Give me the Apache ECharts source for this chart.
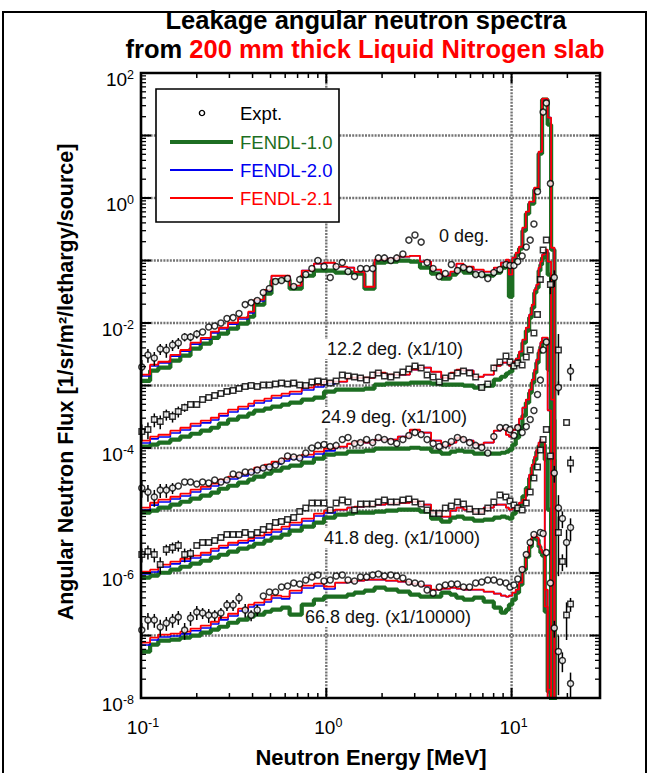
<!DOCTYPE html>
<html>
<head>
<meta charset="utf-8">
<title>Leakage angular neutron spectra</title>
<script src="https://cdn.jsdelivr.net/npm/echarts@6/dist/echarts.min.js"></script>
<style>
  html, body { margin: 0; padding: 0; background: #fff; }
  #chart { width: 649px; height: 773px; }
</style>
</head>
<body>
<div id="chart"></div>
<script>
// ---------------------------------------------------------------------------
// Calculated spectra: group boundaries (MeV), one flux value per group
// ---------------------------------------------------------------------------
const groupEdges = [
  0.100, 0.112, 0.124, 0.144, 0.163, 0.185, 0.210, 0.238, 0.263, 0.295,
  0.334, 0.379, 0.408, 0.463, 0.506, 0.573, 0.634, 0.737, 0.857, 0.972,
  1.116, 1.297, 1.416, 1.606, 1.821, 2.090, 2.431, 2.826, 3.204, 3.679,
  4.172, 4.671, 5.036, 5.500, 6.236, 7.070, 8.017, 8.754, 9.319, 9.675,
  10.09, 10.53, 10.97, 11.44, 11.94, 12.44, 12.85, 13.25, 13.60, 13.99,
  14.30, 14.60, 15.10, 15.66, 16.34, 17.03, 18.00
];

// 0 deg
const fendl10_0deg = [
  1.19e-3, 1.73e-3, 1.93e-3, 2.5e-3, 3.0e-3, 3.9e-3, 4.67e-3, 5.8e-3, 6.75e-3, 8.1e-3,
  9.75e-3, 1.26e-2, 1.96e-2, 2.94e-2, 4.75e-2, 4.93e-2, 3.54e-2, 5.7e-2, 6.87e-2, 6.87e-2,
  6.38e-2, 6.38e-2, 6.15e-2, 3.54e-2, 9.23e-2, 9.57e-2, 9.93e-2, 9.57e-2, 7.67e-2, 6.15e-2,
  5.12e-2, 5.93e-2, 7.13e-2, 6.38e-2, 5.93e-2, 5.7e-2, 6.38e-2, 7.67e-2, 8.9e-2, 2.64e-2,
  9.93e-2, 0.124, 0.155, 0.3, 0.561, 0.811, 0.811, 1.36, 1.36, 5.12,
  5.12, 37.4, 37.4, 14.9, 0.149, 1e-9
];
const fendl20_0deg = [
  1.42e-3, 2.05e-3, 2.3e-3, 2.95e-3, 3.55e-3, 4.6e-3, 5.5e-3, 6.95e-3, 8.0e-3, 9.6e-3,
  1.16e-2, 1.45e-2, 2.25e-2, 3.25e-2, 5.7e-2, 5.7e-2, 3.95e-2, 6.9e-2, 8.9e-2, 9.2e-2,
  7.96e-2, 7.7e-2, 6.6e-2, 3.8e-2, 0.103, 0.107, 0.115, 0.119, 0.096, 0.0713,
  0.0571, 0.0662, 0.0889, 0.0796, 0.0713, 0.0662, 0.0767, 0.0923, 0.103, 0.0593,
  0.111, 0.133, 0.166, 0.335, 0.604, 0.873, 0.873, 1.46, 1.46, 5.5,
  5.5, 38.8, 38.8, 19.3, 0.16, 1e-9
];
const fendl21_0deg = [
  1.49e-3, 2.15e-3, 2.4e-3, 3.1e-3, 3.7e-3, 4.85e-3, 5.8e-3, 7.3e-3, 8.4e-3, 1.01e-2,
  1.22e-2, 1.52e-2, 2.36e-2, 3.4e-2, 5.7e-2, 5.7e-2, 3.95e-2, 6.9e-2, 8.9e-2, 9.2e-2,
  7.96e-2, 7.7e-2, 6.6e-2, 3.8e-2, 0.103, 0.107, 0.115, 0.119, 0.096, 0.0713,
  0.0571, 0.0662, 0.0889, 0.0796, 0.0713, 0.0662, 0.0767, 0.0923, 0.103, 0.0593,
  0.111, 0.133, 0.166, 0.335, 0.604, 0.873, 0.873, 1.46, 1.46, 5.5,
  5.5, 38.8, 38.8, 19.3, 0.16, 1e-9
];

// 12.2 deg (x1/10)
const fendl10_12deg = [
  1.05e-4, 1.13e-4, 1.22e-4, 1.36e-4, 1.52e-4, 1.69e-4, 1.89e-4, 2.11e-4, 2.45e-4, 2.84e-4,
  3.17e-4, 3.54e-4, 3.95e-4, 4.26e-4, 4.58e-4, 4.93e-4, 5.31e-4, 5.93e-4, 6.38e-4, 7.96e-4,
  8.57e-4, 8.57e-4, 8.57e-4, 8.89e-4, 1.03e-3, 1.07e-3, 1.07e-3, 1.11e-3, 1.11e-3, 1.07e-3,
  1.03e-3, 1.03e-3, 1.03e-3, 9.93e-4, 9.23e-4, 9.93e-4, 1.24e-3, 1.38e-3, 1.55e-3, 1.66e-3,
  2.07e-3, 2.4e-3, 3.11e-3, 4.84e-3, 7.53e-3, 1.22e-2, 1.76e-2, 3.05e-2, 3.67e-2, 6.87e-2,
  8.57e-2, 0.111, 0.133, 5.93e-2, 2.84e-4, 1e-9
];
const fendl20_12deg = [
  1.2e-4, 1.4e-4, 1.5e-4, 1.74e-4, 1.94e-4, 2.25e-4, 2.52e-4, 2.8e-4, 3.26e-4, 3.77e-4,
  4.21e-4, 4.71e-4, 5.25e-4, 5.66e-4, 6.32e-4, 6.81e-4, 7.32e-4, 8.49e-4, 9.48e-4, 1.06e-3,
  1.15e-3, 1.33e-3, 1.33e-3, 1.33e-3, 1.6e-3, 1.49e-3, 1.49e-3, 1.79e-3, 1.93e-3, 1.66e-3,
  1.33e-3, 1.6e-3, 1.79e-3, 1.73e-3, 1.38e-3, 1.49e-3, 2.07e-3, 2.32e-3, 2.32e-3, 2.07e-3,
  2.4e-3, 2.69e-3, 3.48e-3, 5.41e-3, 8.41e-3, 1.36e-2, 1.96e-2, 3.41e-2, 4.1e-2, 7.67e-2,
  9.57e-2, 0.124, 0.149, 9.57e-2, 5.93e-4, 1e-9
];
const fendl21_12deg = [
  1.31e-4, 1.52e-4, 1.63e-4, 1.89e-4, 2.11e-4, 2.45e-4, 2.74e-4, 3.05e-4, 3.54e-4, 4.1e-4,
  4.58e-4, 5.12e-4, 5.71e-4, 6.15e-4, 6.87e-4, 7.4e-4, 7.96e-4, 9.23e-4, 1.03e-3, 1.15e-3,
  1.15e-3, 1.33e-3, 1.33e-3, 1.33e-3, 1.6e-3, 1.49e-3, 1.49e-3, 1.79e-3, 1.93e-3, 1.66e-3,
  1.33e-3, 1.6e-3, 1.79e-3, 1.73e-3, 1.38e-3, 1.49e-3, 2.07e-3, 2.32e-3, 2.32e-3, 2.07e-3,
  2.4e-3, 2.69e-3, 3.48e-3, 5.41e-3, 8.41e-3, 1.36e-2, 1.96e-2, 3.41e-2, 4.1e-2, 7.67e-2,
  9.57e-2, 0.124, 0.149, 9.57e-2, 5.93e-4, 1e-9
];

// 24.9 deg (x1/100)
const fendl10_24deg = [
  9.23e-6, 9.93e-6, 1.11e-5, 1.24e-5, 1.38e-5, 1.55e-5, 1.73e-5, 1.93e-5, 2.23e-5, 2.49e-5,
  2.79e-5, 3.11e-5, 3.48e-5, 3.88e-5, 4.34e-5, 4.84e-5, 5.21e-5, 5.82e-5, 6.75e-5, 7.82e-5,
  8.11e-5, 8.73e-5, 8.73e-5, 9.06e-5, 9.75e-5, 9.75e-5, 9.75e-5, 1.01e-4, 9.75e-5, 8.73e-5,
  8.11e-5, 8.73e-5, 9.06e-5, 8.73e-5, 8.11e-5, 8.11e-5, 8.11e-5, 8.4e-5, 8.73e-5, 9.4e-5,
  1.13e-4, 1.46e-4, 2.11e-4, 3.29e-4, 5.31e-4, 7.67e-4, 1.11e-3, 1.6e-3, 2.32e-3, 3.35e-3,
  4.18e-3, 5.02e-3, 5.02e-3, 1.79e-3, 6.5e-5, 1e-9
];
const fendl20_24deg = [
  1.02e-5, 1.22e-5, 1.37e-5, 1.53e-5, 1.71e-5, 1.98e-5, 2.21e-5, 2.47e-5, 2.86e-5, 3.2e-5,
  3.57e-5, 3.99e-5, 4.45e-5, 4.98e-5, 5.56e-5, 6.21e-5, 6.68e-5, 7.19e-5, 8.03e-5, 9.0e-5,
  1.05e-4, 1.17e-4, 1.26e-4, 1.22e-4, 1.36e-4, 1.36e-4, 1.52e-4, 1.96e-4, 1.76e-4, 1.31e-4,
  1.09e-4, 1.22e-4, 1.46e-4, 1.31e-4, 1.13e-4, 1.22e-4, 1.89e-4, 2.04e-4, 1.63e-4, 1.52e-4,
  1.96e-4, 2.28e-4, 2.94e-4, 4.42e-4, 5.93e-4, 8.57e-4, 1.24e-3, 1.79e-3, 2.59e-3, 3.74e-3,
  4.84e-3, 5.82e-3, 5.82e-3, 4.0e-4, 1e-9, 1e-9
];
const fendl21_24deg = [
  1.11e-5, 1.33e-5, 1.49e-5, 1.66e-5, 1.86e-5, 2.15e-5, 2.4e-5, 2.69e-5, 3.11e-5, 3.48e-5,
  3.88e-5, 4.34e-5, 4.84e-5, 5.41e-5, 6.04e-5, 6.75e-5, 7.26e-5, 7.82e-5, 8.73e-5, 9.75e-5,
  1.05e-4, 1.17e-4, 1.26e-4, 1.22e-4, 1.36e-4, 1.36e-4, 1.52e-4, 1.96e-4, 1.76e-4, 1.31e-4,
  1.09e-4, 1.22e-4, 1.46e-4, 1.31e-4, 1.13e-4, 1.22e-4, 1.89e-4, 2.04e-4, 1.63e-4, 1.52e-4,
  1.96e-4, 2.28e-4, 2.94e-4, 4.42e-4, 5.93e-4, 8.57e-4, 1.24e-3, 1.79e-3, 2.59e-3, 3.74e-3,
  4.84e-3, 5.82e-3, 5.82e-3, 4.0e-4, 1e-9, 1e-9
];

// 41.8 deg (x1/1000)
const fendl10_41deg = [
  8.41e-7, 9.06e-7, 1.01e-6, 1.13e-6, 1.26e-6, 1.41e-6, 1.57e-6, 1.76e-6, 1.96e-6, 2.19e-6,
  2.45e-6, 2.64e-6, 2.94e-6, 3.29e-6, 3.67e-6, 4.1e-6, 4.75e-6, 5.51e-6, 6.38e-6, 7.67e-6,
  8.57e-6, 8.89e-6, 9.23e-6, 9.23e-6, 9.57e-6, 9.93e-6, 1.03e-5, 1.03e-5, 9.57e-6, 7.4e-6,
  6.62e-6, 7.67e-6, 7.96e-6, 7.4e-6, 6.87e-6, 7.13e-6, 7.67e-6, 7.96e-6, 7.67e-6, 7.4e-6,
  8.89e-6, 1.03e-5, 1.24e-5, 1.69e-5, 2.28e-5, 3.29e-5, 4.84e-5, 6.5e-5, 8.73e-5, 1.09e-4,
  1.22e-4, 1.13e-4, 6.5e-5, 1.03e-5, 1e-9, 1e-9
];
const fendl20_41deg = [
  9.7e-7, 1.04e-6, 1.25e-6, 1.4e-6, 1.55e-6, 1.74e-6, 1.94e-6, 2.25e-6, 2.52e-6, 2.81e-6,
  3.03e-6, 3.26e-6, 3.63e-6, 4.07e-6, 4.54e-6, 5.07e-6, 5.87e-6, 6.81e-6, 8.18e-6, 9.14e-6,
  1.03e-5, 1.11e-5, 1.15e-5, 1.19e-5, 1.24e-5, 1.29e-5, 1.33e-5, 1.38e-5, 1.24e-5, 9.23e-6,
  7.96e-6, 9.93e-6, 1.11e-5, 1.03e-5, 9.23e-6, 1.11e-5, 1.24e-5, 1.24e-5, 1.11e-5, 1.03e-5,
  1.11e-5, 1.19e-5, 1.33e-5, 1.49e-5, 2.15e-5, 3.74e-5, 5.41e-5, 7.26e-5, 9.4e-5, 1.22e-4,
  1.36e-4, 1.26e-4, 5.41e-7, 1e-9, 1e-9, 1e-9
];
const fendl21_41deg = [
  1.05e-6, 1.13e-6, 1.36e-6, 1.52e-6, 1.69e-6, 1.89e-6, 2.11e-6, 2.45e-6, 2.74e-6, 3.05e-6,
  3.29e-6, 3.54e-6, 3.95e-6, 4.42e-6, 4.93e-6, 5.51e-6, 6.38e-6, 7.4e-6, 8.89e-6, 9.93e-6,
  1.03e-5, 1.11e-5, 1.15e-5, 1.19e-5, 1.24e-5, 1.29e-5, 1.33e-5, 1.38e-5, 1.24e-5, 9.23e-6,
  7.96e-6, 9.93e-6, 1.11e-5, 1.03e-5, 9.23e-6, 1.11e-5, 1.24e-5, 1.24e-5, 1.11e-5, 1.03e-5,
  1.11e-5, 1.19e-5, 1.33e-5, 1.49e-5, 2.15e-5, 3.74e-5, 5.41e-5, 7.26e-5, 9.4e-5, 1.22e-4,
  1.36e-4, 1.26e-4, 5.41e-7, 1e-9, 1e-9, 1e-9
];

// 66.8 deg (x1/10000)
const fendl10_66deg = [
  5.51e-8, 7.13e-8, 8.26e-8, 8.57e-8, 9.23e-8, 9.93e-8, 1.11e-7, 1.24e-7, 1.38e-7, 1.6e-7,
  1.79e-7, 2.0e-7, 2.15e-7, 2.4e-7, 2.59e-7, 2.79e-7, 2.15e-7, 3.11e-7, 3.74e-7, 4.18e-7,
  4.18e-7, 4.5e-7, 4.84e-7, 5.21e-7, 5.82e-7, 5.41e-7, 5.02e-7, 4.5e-7, 4.18e-7, 4.18e-7,
  4.84e-7, 4.5e-7, 4.03e-7, 3.74e-7, 4.03e-7, 3.48e-7, 2.79e-7, 2.32e-7, 2.59e-7, 3.11e-7,
  3.74e-7, 4.84e-7, 6.5e-7, 1.13e-6, 1.82e-6, 2.64e-6, 3.54e-6, 3.81e-6, 3.41e-6, 2.64e-6,
  2.11e-6, 1.89e-6, 2.4e-7, 1.26e-8, 1e-9, 1e-9
];
const fendl20_66deg = [
  7.06e-8, 8.49e-8, 9.48e-8, 9.84e-8, 1.06e-7, 1.19e-7, 1.32e-7, 1.53e-7, 1.78e-7, 2.05e-7,
  2.47e-7, 2.86e-7, 3.08e-7, 3.44e-7, 3.99e-7, 3.85e-7, 4.79e-7, 5.77e-7, 6.21e-7, 5.56e-7,
  7.0e-7, 7.26e-7, 7.53e-7, 7.82e-7, 7.82e-7, 7.53e-7, 7.26e-7, 6.75e-7, 6.27e-7, 5.41e-7,
  5.61e-7, 5.82e-7, 5.61e-7, 5.41e-7, 5.41e-7, 5.02e-7, 4.67e-7, 4.34e-7, 4.18e-7, 4.34e-7,
  4.84e-7, 5.41e-7, 7.0e-7, 1.22e-6, 1.96e-6, 2.84e-6, 3.81e-6, 4.1e-6, 3.67e-6, 2.84e-6,
  2.36e-6, 2.11e-6, 2.89e-7, 1.36e-8, 1e-9, 1e-9
];
const fendl21_66deg = [
  7.67e-8, 9.23e-8, 1.03e-7, 1.07e-7, 1.15e-7, 1.29e-7, 1.44e-7, 1.66e-7, 1.93e-7, 2.23e-7,
  2.69e-7, 3.11e-7, 3.35e-7, 3.74e-7, 4.34e-7, 4.18e-7, 5.21e-7, 6.27e-7, 6.75e-7, 6.04e-7,
  7.0e-7, 7.26e-7, 7.53e-7, 7.82e-7, 7.82e-7, 7.53e-7, 7.26e-7, 6.75e-7, 6.27e-7, 5.41e-7,
  5.61e-7, 5.82e-7, 5.61e-7, 5.41e-7, 5.41e-7, 5.02e-7, 4.67e-7, 4.34e-7, 4.18e-7, 4.34e-7,
  4.84e-7, 5.41e-7, 7.0e-7, 1.22e-6, 1.96e-6, 2.84e-6, 3.81e-6, 4.1e-6, 3.67e-6, 2.84e-6,
  2.36e-6, 2.11e-6, 2.89e-7, 1.36e-8, 1e-9, 1e-9
];

// ---------------------------------------------------------------------------
// Measured spectra: common energy points (MeV); null = no point at that energy
// ---------------------------------------------------------------------------
const exptEnergy = [
  0.101, 0.109, 0.118, 0.127, 0.137, 0.148, 0.159, 0.172, 0.185, 0.200,
  0.215, 0.232, 0.250, 0.270, 0.291, 0.314, 0.338, 0.365, 0.393, 0.424,
  0.457, 0.493, 0.532, 0.573, 0.618, 0.667, 0.719, 0.775, 0.836, 0.901,
  0.972, 1.05, 1.13, 1.22, 1.31, 1.42, 1.53, 1.65, 1.78, 1.91,
  2.06, 2.23, 2.40, 2.59, 2.79, 3.01, 3.25, 3.50, 3.77, 4.07,
  4.39, 4.73, 5.10, 5.50, 5.93, 6.40, 6.90, 7.44, 8.02, 8.65,
  9.33, 9.80, 10.3, 10.8, 11.4, 12.0, 12.6, 13.2, 13.8, 14.3,
  14.8, 15.4, 16.2, 17.0, 17.9, 18.8, 19.8, 20.8
];

const expt_0deg = [
  1.97e-3, 3.08e-3, 2.75e-3, 3.84e-3, 3.70e-3, 4.45e-3, 4.79e-3, 5.97e-3, 5.97e-3, 6.67e-3,
  7.18e-3, 8.63e-3, 8.95e-3, 1.0e-2, 1.18e-2, 1.22e-2, 1.42e-2, 1.97e-2, 2.12e-2, 2.29e-2,
  3.08e-2, 3.56e-2, 4.61e-2, 4.79e-2, 5.15e-2, 3.84e-2, 4.97e-2, 5.97e-2, 7.45e-2, 0.100,
  8.02e-2, 5.35e-2, 8.02e-2, 9.29e-2, 6.67e-2, 5.55e-2, 7.45e-2, 7.45e-2, 7.45e-2, 0.110,
  0.110, 0.100, 0.110, 0.127, 0.212, 0.256, 0.197, 9.29e-2, 7.45e-2, 5.55e-2,
  6.20e-2, 8.63e-2, 6.92e-2, 7.73e-2, 7.18e-2, 5.97e-2, 5.97e-2, 5.15e-2, 6.43e-2, 7.18e-2,
  8.63e-2, 8.32e-2, 8.32e-2, 9.64e-2, 0.118, 0.164, 0.212, 0.384, 1.27, null,
  23.7, 33.1, 1.70, 5.35e-2, 9.29e-4, null, null, 1.70e-3
];
const exptErr_0deg = [
  0.3, 0.25, 0.25, 0.2, 0.25, 0.2, 0.2, 0.15, 0.15, 0.15,
  0, 0, 0, 0, 0, 0, 0, 0, 0, 0,
  0, 0, 0, 0, 0, 0, 0, 0, 0, 0,
  0, 0, 0, 0, 0, 0, 0, 0, 0, 0,
  0, 0, 0, 0, 0, 0, 0, 0, 0, 0,
  0, 0, 0, 0, 0, 0, 0, 0, 0, 0,
  0, 0, 0, 0, 0, 0, 0, 0, 0, 0,
  0, 0, 0, 0.3, 0.25, 0, 0, 0.3
];

const expt_12deg = [
  1.83e-4, 1.97e-4, 2.86e-4, 2.65e-4, 3.43e-4, 3.19e-4, 3.84e-4, 4.45e-4, 4.97e-4, 4.97e-4,
  5.97e-4, 6.43e-4, 6.92e-4, 7.45e-4, 8.02e-4, 8.32e-4, 8.95e-4, 9.64e-4, 1.0e-3, 9.64e-4,
  1.02e-3, 1.02e-3, 1.06e-3, 1.10e-3, 1.06e-3, 1.10e-3, 1.02e-3, 1.0e-3, 1.14e-3, 1.18e-3,
  1.14e-3, 1.10e-3, 1.18e-3, 1.47e-3, 1.42e-3, 1.37e-3, 1.32e-3, 1.22e-3, 1.47e-3, 1.58e-3,
  1.42e-3, 1.37e-3, 1.47e-3, 1.64e-3, 1.83e-3, 2.05e-3, 1.90e-3, 1.47e-3, 1.37e-3, 1.14e-3,
  1.32e-3, 1.42e-3, 1.58e-3, 1.70e-3, 1.58e-3, 1.37e-3, 9.29e-4, 1.06e-3, 1.90e-3, 2.37e-3,
  2.96e-3, 2.37e-3, 2.05e-3, 2.29e-3, 2.12e-3, 2.86e-3, 3.70e-3, 6.92e-3, 1.37e-2, 4.97e-2,
  0.147, 0.212, 4.13e-2, null, 3.70e-3, null, 2.56e-4, 5.75e-5
];
const exptErr_12deg = [
  0.3, 0.3, 0.25, 0.25, 0.2, 0.2, 0.2, 0.15, 0, 0,
  0, 0, 0, 0, 0, 0, 0, 0, 0, 0,
  0, 0, 0, 0, 0, 0, 0, 0, 0, 0,
  0, 0, 0, 0, 0, 0, 0, 0, 0, 0,
  0, 0, 0, 0, 0, 0, 0, 0, 0, 0,
  0, 0, 0, 0, 0, 0, 0, 0, 0, 0,
  0, 0, 0, 0, 0, 0, 0, 0, 0, 0,
  0, 0, 0.3, 0, 0.8, 0, 0, 0.3
];

const expt_24deg = [
  2.29e-5, 1.97e-5, 1.64e-5, 2.12e-5, 2.12e-5, 2.29e-5, 2.46e-5, 2.86e-5, 2.86e-5, 2.65e-5,
  2.86e-5, 2.75e-5, 3.08e-5, 2.86e-5, 3.08e-5, 3.84e-5, 3.70e-5, 4.13e-5, 4.13e-5, 4.45e-5,
  4.79e-5, 4.97e-5, 5.35e-5, 6.20e-5, 7.45e-5, 7.18e-5, 6.92e-5, 8.32e-5, 1.0e-4, 1.10e-4,
  1.14e-4, 1.06e-4, 1.10e-4, 1.37e-4, 1.47e-4, 1.18e-4, 1.22e-4, 1.37e-4, 1.22e-4, 1.47e-4,
  1.37e-4, 1.27e-4, 1.18e-4, 1.37e-4, 1.58e-4, 1.77e-4, 1.64e-4, 1.37e-4, 1.18e-4, 1.06e-4,
  1.14e-4, 1.27e-4, 1.47e-4, 1.37e-4, 1.22e-4, 1.10e-4, 1.02e-4, 8.32e-5, 1.53e-4, 2.12e-4,
  2.12e-4, 1.97e-4, 1.58e-4, 2.12e-4, 1.77e-4, 2.20e-4, 2.86e-4, 3.98e-4, 7.18e-4, 1.22e-3,
  3.70e-3, 4.97e-3, null, 3.98e-5, 1.10e-5, 7.45e-6, 3.08e-6, 5.35e-6
];
const exptErr_24deg = [
  0.3, 0.3, 0.3, 0.25, 0.25, 0.2, 0, 0, 0, 0,
  0, 0, 0, 0, 0, 0, 0, 0, 0, 0,
  0, 0, 0, 0, 0, 0, 0, 0, 0, 0,
  0, 0, 0, 0, 0, 0, 0, 0, 0, 0,
  0, 0, 0, 0, 0, 0, 0, 0, 0, 0,
  0, 0, 0, 0, 0, 0, 0, 0, 0, 0,
  0, 0, 0, 0, 0, 0, 0, 0, 0, 0,
  0, 0, 0, 0.3, 0.6, 0.3, 0.6, 0.4
];

const expt_41deg = [
  1.97e-6, 2.20e-6, 1.97e-6, 1.37e-6, 2.37e-6, 2.56e-6, 2.75e-6, 1.97e-6, 2.05e-6, 2.75e-6,
  3.08e-6, 3.08e-6, 3.31e-6, 3.70e-6, 4.13e-6, 4.13e-6, 4.13e-6, 4.45e-6, 4.13e-6, 4.45e-6,
  4.97e-6, 5.55e-6, 6.43e-6, 6.67e-6, 7.18e-6, 7.73e-6, 9.64e-6, 1.10e-5, 1.32e-5, 1.32e-5,
  1.32e-5, 1.02e-5, 1.32e-5, 1.47e-5, 1.37e-5, 1.02e-5, 1.27e-5, 1.27e-5, 1.27e-5, 1.37e-5,
  1.47e-5, 1.37e-5, 1.37e-5, 1.47e-5, 1.53e-5, 1.37e-5, 1.27e-5, 1.02e-5, 8.95e-6, 8.95e-6,
  1.10e-5, 1.18e-5, 1.37e-5, 1.27e-5, 1.06e-5, 9.64e-6, 9.64e-6, 1.10e-5, 1.37e-5, 1.77e-5,
  1.64e-5, 1.42e-5, 1.22e-5, 1.10e-5, 1.02e-5, 1.32e-5, 1.97e-5, 3.31e-5, 4.97e-5, 9.29e-5,
  1.37e-4, 1.97e-4, 7.45e-5, null, 4.45e-6, 1.53e-6, 2.12e-7, 3.19e-7
];
const exptErr_41deg = [
  0.25, 0.25, 0.25, 0.3, 0.2, 0.2, 0.2, 0.25, 0.2, 0,
  0, 0, 0, 0, 0, 0, 0, 0, 0, 0,
  0, 0, 0, 0, 0, 0, 0, 0, 0, 0,
  0, 0, 0, 0, 0, 0, 0, 0, 0, 0,
  0, 0, 0, 0, 0, 0, 0, 0, 0, 0,
  0, 0, 0, 0, 0, 0, 0, 0, 0, 0,
  0, 0, 0, 0, 0, 0, 0, 0, 0, 0,
  0, 0, 0, 0, 0.8, 0.3, 0.6, 0.25
];

const expt_66deg = [
  1.22e-7, 1.77e-7, 1.77e-7, 1.37e-7, 1.58e-7, 1.77e-7, 1.97e-7, 1.22e-7, 1.90e-7, 2.37e-7,
  2.29e-7, 2.12e-7, 2.12e-7, 2.29e-7, 3.08e-7, 3.08e-7, 3.98e-7, 2.56e-7, 2.12e-7, 2.56e-7,
  4.29e-7, 4.97e-7, 4.97e-7, 5.97e-7, 6.20e-7, 6.92e-7, 6.67e-7, 7.73e-7, 8.63e-7, 9.29e-7,
  7.45e-7, 7.73e-7, 8.95e-7, 9.29e-7, 7.73e-7, 7.45e-7, 8.63e-7, 8.63e-7, 9.29e-7, 9.64e-7,
  8.95e-7, 9.29e-7, 8.95e-7, 8.32e-7, 7.18e-7, 6.92e-7, 6.67e-7, 5.35e-7, 4.79e-7, 5.97e-7,
  6.43e-7, 6.67e-7, 6.67e-7, 5.97e-7, 5.97e-7, 6.92e-7, 7.18e-7, 7.73e-7, 7.73e-7, 7.18e-7,
  6.92e-7, 5.97e-7, 6.43e-7, 8.02e-7, 1.14e-6, 1.97e-6, 3.08e-6, 4.13e-6, null, 4.45e-6,
  4.29e-6, 2.12e-6, 6.92e-7, 1.32e-7, 5.55e-8, 3.98e-8, null, 1.70e-8
];
const exptErr_66deg = [
  0.3, 0.3, 0.25, 0.3, 0.25, 0.25, 0.25, 0.3, 0.25, 0.25,
  0.2, 0.25, 0.2, 0.2, 0.2, 0.2, 0.2, 0.25, 0.2, 0.2,
  0, 0, 0, 0, 0, 0, 0, 0, 0, 0,
  0, 0, 0, 0, 0, 0, 0, 0, 0, 0,
  0, 0, 0, 0, 0, 0, 0, 0, 0, 0,
  0, 0, 0, 0, 0, 0, 0, 0, 0, 0,
  0, 0, 0, 0, 0, 0, 0, 0, 0, 0,
  0, 0, 0, 0.3, 0.8, 0.35, 0, 0.5
];

// Axis labels (powers of ten)
const xTickExponents = [-1, 0, 1];
const yTickExponents = [2, 0, -2, -4, -6, -8];

// Curve labels
const angleLabels = ['0 deg.', '12.2 deg. (x1/10)', '24.9 deg. (x1/100)', '41.8 deg. (x1/1000)', '66.8 deg. (x1/10000)'];
const libraryNames = ['FENDL-1.0', 'FENDL-2.0', 'FENDL-2.1'];

// ---------------------------------------------------------------------------
const FONT = "'Liberation Sans', Arial, Helvetica, sans-serif";
const GREEN = '#1d6e22';
const BLUE = '#0000f0';
const RED = '#ff0000';

const angles = [
  { f10: fendl10_0deg,  f20: fendl20_0deg,  f21: fendl21_0deg,  expt: expt_0deg,  err: exptErr_0deg,  symbol: 'circle' },
  { f10: fendl10_12deg, f20: fendl20_12deg, f21: fendl21_12deg, expt: expt_12deg, err: exptErr_12deg, symbol: 'rect' },
  { f10: fendl10_24deg, f20: fendl20_24deg, f21: fendl21_24deg, expt: expt_24deg, err: exptErr_24deg, symbol: 'circle' },
  { f10: fendl10_41deg, f20: fendl20_41deg, f21: fendl21_41deg, expt: expt_41deg, err: exptErr_41deg, symbol: 'rect' },
  { f10: fendl10_66deg, f20: fendl20_66deg, f21: fendl21_66deg, expt: expt_66deg, err: exptErr_66deg, symbol: 'circle' }
];

// histogram -> step polyline
function stepData(values) {
  const pts = [];
  for (let i = 0; i < values.length; i++) {
    pts.push([groupEdges[i], values[i]], [groupEdges[i + 1], values[i]]);
  }
  return pts;
}
function pointData(values) {
  const pts = [];
  values.forEach((v, i) => { if (v != null) pts.push([exptEnergy[i], v]); });
  return pts;
}
function errorData(values, errs) {
  const bars = [];
  values.forEach((v, i) => {
    if (v != null && errs[i] > 0) bars.push([exptEnergy[i], v * (1 - errs[i]), v * (1 + errs[i])]);
  });
  return bars;
}

// "10" with a superscript exponent
const powerRich = {
  b: { font: '19px ' + FONT, fill: '#000', lineHeight: 22 },
  s: { font: '12.5px ' + FONT, fill: '#000', lineHeight: 13, verticalAlign: 'top' }
};
function powerText(e) { return '{b|10}{s|' + e + '}'; }

const series = [];

// dotted grid at the decades
series.push({
  type: 'custom', z: 0, silent: true, clip: false, animation: false,
  data: [[1, 1]],
  renderItem: function (params, api) {
    const cs = params.coordSys;
    const children = [];
    const style = { stroke: '#747474', lineWidth: 2.4, lineDash: [2, 1.2] };
    [1, 10].forEach(function (e) {
      const x = api.coord([e, 1])[0];
      children.push({ type: 'line', shape: { x1: x, y1: cs.y, x2: x, y2: cs.y + cs.height }, style: style });
    });
    for (let k = -7; k <= 1; k++) {
      const y = api.coord([1, Math.pow(10, k)])[1];
      children.push({ type: 'line', shape: { x1: cs.x, y1: y, x2: cs.x + cs.width, y2: y }, style: style });
    }
    return { type: 'group', children: children };
  }
});

angles.forEach(function (a) {
  series.push({
    name: libraryNames[0], type: 'line', data: stepData(a.f10), showSymbol: false, symbol: 'none',
    lineStyle: { color: GREEN, width: 4.2 }, z: 2, clip: true, animation: false, silent: true
  });
  series.push({
    name: libraryNames[1], type: 'line', data: stepData(a.f20), showSymbol: false, symbol: 'none',
    lineStyle: { color: BLUE, width: 1.6 }, z: 3, clip: true, animation: false, silent: true
  });
  series.push({
    name: libraryNames[2], type: 'line', data: stepData(a.f21), showSymbol: false, symbol: 'none',
    lineStyle: { color: RED, width: 1.8 }, z: 4, clip: true, animation: false, silent: true
  });
});

angles.forEach(function (a) {
  series.push({
    type: 'custom', z: 5, clip: true, silent: true, animation: false,
    data: errorData(a.expt, a.err),
    encode: { x: 0, y: [1, 2] },
    renderItem: function (params, api) {
      const p1 = api.coord([api.value(0), api.value(1)]);
      const p2 = api.coord([api.value(0), api.value(2)]);
      return { type: 'line', shape: { x1: p1[0], y1: p1[1], x2: p2[0], y2: p2[1] },
               style: { stroke: '#000', lineWidth: 1.5 } };
    }
  });
});

angles.forEach(function (a) {
  series.push({
    name: 'Expt.', type: 'scatter', data: pointData(a.expt), symbol: a.symbol, symbolSize: a.symbol === 'rect' ? 5.5 : 6,
    itemStyle: { color: '#fff', borderColor: '#000', borderWidth: 1.5 }, z: 6, animation: false, silent: true
  });
});

// frame, tick marks on all four sides, and the power-of-ten tick labels
series.push({
  type: 'custom', z: 10, silent: true, clip: false, animation: false,
  data: [[1, 1]],
  renderItem: function (params, api) {
    const cs = params.coordSys;
    const left = cs.x, top = cs.y, right = cs.x + cs.width, bottom = cs.y + cs.height;
    const children = [];
    for (let d = -1; d <= 1; d++) {
      for (let m = 1; m <= 9; m++) {
        const e = m * Math.pow(10, d);
        if (e > 30.0001) continue;
        const x = api.coord([e, 1])[0];
        const len = m === 1 ? 10 : 5;
        const lw = m === 1 ? 2 : 1.5;
        children.push({ type: 'line', shape: { x1: x, y1: bottom, x2: x, y2: bottom - len }, style: { stroke: '#000', lineWidth: lw } });
        children.push({ type: 'line', shape: { x1: x, y1: top, x2: x, y2: top + len }, style: { stroke: '#000', lineWidth: lw } });
      }
    }
    for (let k = -8; k <= 2; k++) {
      for (let m = 1; m <= 9; m++) {
        const v = m * Math.pow(10, k);
        if (v > 100.0001) continue;
        const y = api.coord([1, v])[1];
        const len = m === 1 ? 10 : 5;
        const lw = m === 1 ? 2 : 1.3;
        children.push({ type: 'line', shape: { x1: left, y1: y, x2: left + len, y2: y }, style: { stroke: '#000', lineWidth: lw } });
        children.push({ type: 'line', shape: { x1: right, y1: y, x2: right - len, y2: y }, style: { stroke: '#000', lineWidth: lw } });
      }
    }
    children.push({ type: 'rect', shape: { x: left, y: top, width: cs.width, height: cs.height },
                    style: { fill: 'none', stroke: '#000', lineWidth: 2.6 } });
    xTickExponents.forEach(function (e) {
      const x = api.coord([Math.pow(10, e), 1])[0];
      children.push({ type: 'text', style: { text: powerText(e), x: x + 2, y: bottom + 29, align: 'center', verticalAlign: 'middle', rich: powerRich } });
    });
    yTickExponents.forEach(function (e) {
      const y = api.coord([1, Math.pow(10, e)])[1];
      children.push({ type: 'text', style: { text: powerText(e), x: left - 7, y: y + 6, align: 'right', verticalAlign: 'middle', rich: powerRich } });
    });
    return { type: 'group', children: children };
  }
});

// titles, legend box and curve labels
const graphics = [
  { type: 'rect', z: 1, silent: true, shape: { x: 3, y: 12, width: 643, height: 775 },
    style: { fill: 'none', stroke: '#000', lineWidth: 2 } },
  { type: 'text', z: 1, silent: true, x: 366, y: 20,
    style: { text: 'Leakage angular neutron spectra', font: 'bold 25.5px ' + FONT, fill: '#000', align: 'center', verticalAlign: 'middle' } },
  { type: 'text', z: 1, silent: true, x: 365, y: 49,
    style: { text: '{k|from }{r|200 mm thick Liquid Nitrogen slab}', font: 'bold 25.5px ' + FONT, align: 'center', verticalAlign: 'middle',
             rich: { k: { fill: '#000', font: 'bold 25.5px ' + FONT }, r: { fill: RED, font: 'bold 25.5px ' + FONT } } } },
  { type: 'text', z: 1, silent: true, x: 371, y: 757,
    style: { text: 'Neutron Energy [MeV]', font: 'bold 22px ' + FONT, fill: '#000', align: 'center', verticalAlign: 'middle' } },
  { type: 'text', z: 1, silent: true, x: 66, y: 382, rotation: Math.PI / 2,
    style: { text: 'Angular Neutron Flux [1/sr/m\u00b2/lethargy/source]', font: 'bold 21.5px ' + FONT, fill: '#000', align: 'center', verticalAlign: 'middle' } },
  // legend
  { type: 'rect', z: 1, silent: true, shape: { x: 156, y: 89, width: 183, height: 133 },
    style: { fill: '#fff', stroke: '#000', lineWidth: 1.6 } },
  { type: 'circle', z: 1, silent: true, shape: { cx: 202, cy: 113, r: 2.6 },
    style: { fill: '#fff', stroke: '#000', lineWidth: 1.4 } },
  { type: 'line', z: 1, silent: true, shape: { x1: 170, y1: 142, x2: 233, y2: 142 }, style: { stroke: GREEN, lineWidth: 4.2 } },
  { type: 'line', z: 1, silent: true, shape: { x1: 170, y1: 170, x2: 233, y2: 170 }, style: { stroke: BLUE, lineWidth: 1.8 } },
  { type: 'line', z: 1, silent: true, shape: { x1: 170, y1: 198, x2: 233, y2: 198 }, style: { stroke: RED, lineWidth: 1.8 } },
  { type: 'text', z: 1, silent: true, x: 240, y: 113, style: { text: 'Expt.', font: '18.5px ' + FONT, fill: '#000', verticalAlign: 'middle' } },
  { type: 'text', z: 1, silent: true, x: 240, y: 142, style: { text: libraryNames[0], font: '18.5px ' + FONT, fill: GREEN, verticalAlign: 'middle' } },
  { type: 'text', z: 1, silent: true, x: 240, y: 170, style: { text: libraryNames[1], font: '18.5px ' + FONT, fill: BLUE, verticalAlign: 'middle' } },
  { type: 'text', z: 1, silent: true, x: 240, y: 198, style: { text: libraryNames[2], font: '18.5px ' + FONT, fill: RED, verticalAlign: 'middle' } }
];
const labelPos = [[464, 236], [395, 349], [394, 417], [402, 538], [388, 617]];
angleLabels.forEach(function (t, i) {
  graphics.push({
    type: 'text', z: 1, silent: true, x: labelPos[i][0], y: labelPos[i][1],
    style: { text: t, font: '18px ' + FONT, fill: '#111', align: 'center', verticalAlign: 'middle',
             backgroundColor: '#fff', padding: [1, 3] }
  });
});

const chart = echarts.init(document.getElementById('chart'), null, { renderer: 'svg', width: 649, height: 773 });
chart.setOption({
  animation: false,
  backgroundColor: '#fff',
  grid: { left: 141, top: 73, width: 459, height: 625 },
  xAxis: {
    type: 'log', logBase: 10, min: 0.1, max: 30,
    axisLine: { show: false }, axisTick: { show: false }, splitLine: { show: false }, axisLabel: { show: false }
  },
  yAxis: {
    type: 'log', logBase: 10, min: 1e-8, max: 100,
    axisLine: { show: false }, axisTick: { show: false }, splitLine: { show: false }, axisLabel: { show: false }
  },
  graphic: graphics,
  series: series
});
</script>
</body>
</html>
